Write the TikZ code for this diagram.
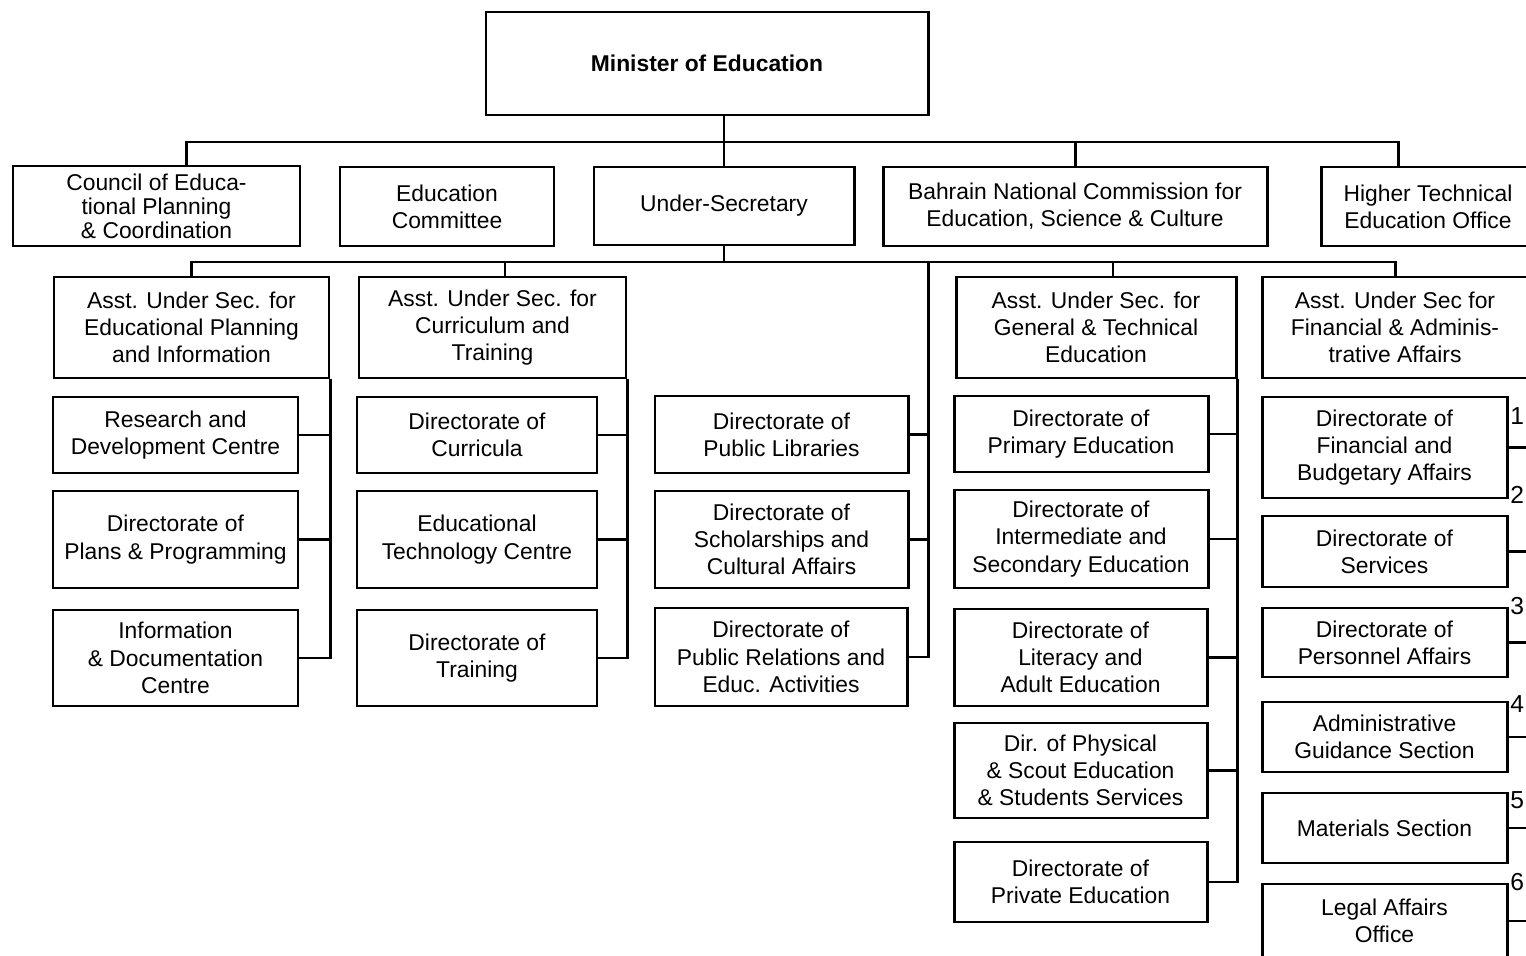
\documentclass[tikz,border=0pt]{standalone}
\usepackage{fontspec}
\setmainfont{Liberation Sans}
\usetikzlibrary{positioning,calc}
\begin{document}
\begin{tikzpicture}[x=0.02cm,y=-0.02cm,
  unit/.style 2 args={draw,line width=1.7pt,align=center,inner sep=1pt,minimum width=#1*0.02cm,minimum height=#2*0.02cm,font=\fontsize{13}{15.5}\selectfont},
  link/.style={line width=1.7pt},
  num/.style={anchor=west,inner sep=0pt,font=\fontsize{14}{16}\selectfont}]
\useasboundingbox (0,0) rectangle (1526,956);
\clip (0,0) rectangle (1526,956);
\node[unit={442}{103}] (Min) at (707,63.5) {\bfseries Minister of Education};
\node[unit={287}{80},font=\fontsize{13}{13.6}\selectfont] (Coun) at (156.5,206) {Council of Educa-\\tional Planning\\\& Coordination};
\node[unit={214}{79}] (EdC) at (447,206.5) {Education\\Committee};
\node[unit={260}{78}] (US) at (724,206) {Under-Secretary};
\node[unit={384}{79}] (BNC) at (1075,206.5) {Bahrain National Commission for\\Education, Science \& Culture};
\node[unit={214}{79}] (HTE) at (1428,206.5) {Higher Technical\\Education Office};
\node[unit={275}{101}] (AP) at (191.5,327.5) {Asst. Under Sec. for\\Educational Planning\\and Information};
\node[unit={267}{101}] (AC) at (492.5,327.5) {Asst. Under Sec. for\\Curriculum and\\Training};
\node[unit={280}{101}] (AG) at (1096,327.5) {Asst. Under Sec. for\\General \& Technical\\Education};
\node[unit={266}{101}] (AF) at (1395,327.5) {Asst. Under Sec for\\Financial \& Adminis-\\trative Affairs};
\node[unit={245}{76}] (RD) at (175.5,435) {Research and\\Development Centre};
\node[unit={245}{97}] (PP) at (175.5,539.5) {Directorate of\\Plans \& Programming};
\node[unit={245}{96}] (ID) at (175.5,658) {Information\\\& Documentation\\Centre};
\node[unit={240}{76}] (DC) at (477,435) {Directorate of\\Curricula};
\node[unit={240}{97}] (ET) at (477,539.5) {Educational\\Technology Centre};
\node[unit={240}{96}] (DT) at (477,658) {Directorate of\\Training};
\node[unit={253}{77}] (PL) at (781.5,434.5) {Directorate of\\Public Libraries};
\node[unit={253}{97}] (SC) at (781.5,539.5) {Directorate of\\Scholarships and\\Cultural Affairs};
\node[unit={252}{98}] (PR) at (781,657) {Directorate of\\Public Relations and\\Educ. Activities};
\node[unit={254}{76}] (PE) at (1081,434) {Directorate of\\Primary Education};
\node[unit={254}{98}] (IS) at (1081,539) {Directorate of\\Intermediate and\\Secondary Education};
\node[unit={253}{97}] (LA) at (1080.5,657.5) {Directorate of\\Literacy and\\Adult Education};
\node[unit={253}{95}] (PS) at (1080.5,770.5) {Dir. of Physical\\\& Scout Education\\\& Students Services};
\node[unit={253}{80}] (PV) at (1080.5,882) {Directorate of\\Private Education};
\node[unit={245}{101}] (FB) at (1384.5,447.5) {Directorate of\\Financial and\\Budgetary Affairs};
\node[unit={245}{71}] (DS) at (1384.5,551.5) {Directorate of\\Services};
\node[unit={245}{69}] (PA) at (1384.5,642.5) {Directorate of\\Personnel Affairs};
\node[unit={245}{70}] (AS) at (1384.5,737) {Administrative\\Guidance Section};
\node[unit={245}{70}] (MS) at (1384.5,828) {Materials Section};
\node[unit={245}{74}] (LO) at (1384.5,921) {Legal Affairs\\Office};
\coordinate (BusA) at (724,142);
\coordinate (BusB) at (724,262);
\coordinate (PubTop) at (928,262);
\coordinate (Edge) at (1526,0);
\draw[link] (Min.south -| US.north) -- (US.north);
\draw[link] ([xshift=0.6cm]Coun.north) |- (BusA) -| ([xshift=-0.6cm]HTE.north);
\draw[link] (BNC.north) -- (BNC.north |- BusA);
\draw[link] (US.south) -- (BusB);
\draw[link] (AP.north) |- (BusB) -| (AF.north);
\draw[link] ([xshift=0.25cm]AC.north) -- ([xshift=0.25cm]AC.north |- BusB);
\draw[link] ([xshift=0.34cm]AG.north) -- ([xshift=0.34cm]AG.north |- BusB);
\draw[link] (AP.south east) |- (ID.east);
\draw[link] (RD.east) -- (RD.east -| AP.east);
\draw[link] (PP.east) -- (PP.east -| AP.east);
\draw[link] (AC.south east) |- (DT.east);
\draw[link] (DC.east) -- (DC.east -| AC.east);
\draw[link] (ET.east) -- (ET.east -| AC.east);
\draw[link] (PubTop) |- (PR.east);
\draw[link] (PL.east) -- (PL.east -| PubTop);
\draw[link] (SC.east) -- (SC.east -| PubTop);
\draw[link] (AG.south east) |- (PV.east);
\draw[link] (PE.east) -- (PE.east -| AG.east);
\draw[link] (IS.east) -- (IS.east -| AG.east);
\draw[link] (LA.east) -- (LA.east -| AG.east);
\draw[link] (PS.east) -- (PS.east -| AG.east);
\draw[link] (FB.east) -- (FB.east -| Edge);
\draw[link] (DS.east) -- (DS.east -| Edge);
\draw[link] (PA.east) -- (PA.east -| Edge);
\draw[link] (AS.east) -- (AS.east -| Edge);
\draw[link] (MS.east) -- (MS.east -| Edge);
\draw[link] (LO.east) -- (LO.east -| Edge);
\node[num] (N1) at (1510,416) {1};
\node[num] (N2) at (1510,495) {2};
\node[num] (N3) at (1510,606) {3};
\node[num] (N4) at (1510,704) {4};
\node[num] (N5) at (1510,800) {5};
\node[num] (N6) at (1510,882) {6};
\end{tikzpicture}
\end{document}
